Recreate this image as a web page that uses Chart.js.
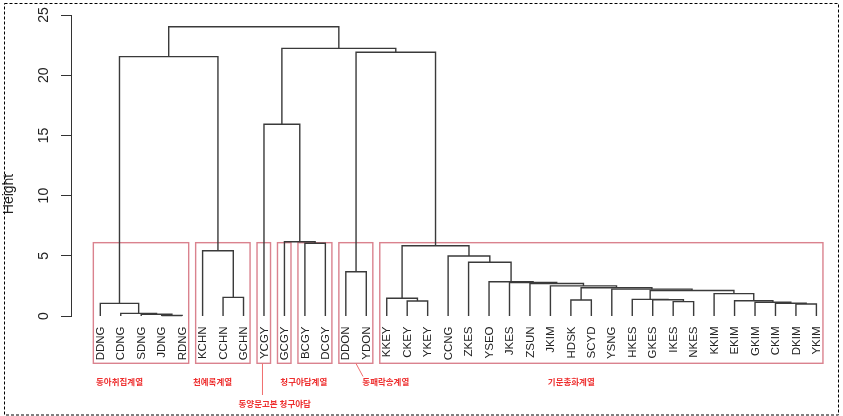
<!DOCTYPE html>
<html>
<head>
<meta charset="utf-8">
<script src="https://cdn.jsdelivr.net/npm/chart.js@4/dist/chart.umd.min.js"></script>
<style>
  html, body { margin: 0; padding: 0; background: #fff; }
  canvas { display: block; }
</style>
</head>
<body>
<canvas id="c" width="843" height="416"></canvas>
<script>
// Leaves in dendrogram order
const leafLabels = [
  'DDNG','CDNG','SDNG','JDNG','RDNG',
  'KCHN','CCHN','GCHN',
  'YCGY','GCGY','BCGY','DCGY',
  'DDON','YDON',
  'KKEY','CKEY','YKEY','CCNG','ZKES','YSEO','JKES','ZSUN','JKIM','HDSK','SCYD',
  'YSNG','HKES','GKES','IKES','NKES','KKIM','EKIM','GKIM','CKIM','DKIM','YKIM'
];

// hclust-style merge table: negative = leaf number (1-based), positive = earlier merge step
const mergeLeft   = [ -4, -3, -2, -35, -1, -34, -33, -29, -16, -32, -24, -28, -27, -15, -7, -31, 13, -26, 11, -23, -22, -21, -20, -13, -19, -18, -6, 14, -11, -10, -9, 5, 24, 31, 32];
const mergeRight  = [ -5,  1,  2, -36,  3,   4,   6, -30, -17,   7, -25,   8,  12,   9, -8,  10, 16,  17, 18,  19,  20,  21,  22, -14,  23,  25, 15, 26, -12,  29, 30, 27, 28, 33, 34];
const mergeHeight = [0.04, 0.14, 0.22, 1.00, 1.05, 1.06, 1.14, 1.19, 1.25, 1.27, 1.33, 1.35, 1.38, 1.47, 1.55, 1.86, 2.12, 2.23, 2.35, 2.50, 2.70, 2.78, 2.85, 3.68, 4.46, 4.98, 5.42, 5.84, 6.04, 6.17, 15.92, 21.54, 21.90, 22.23, 24.03];

const yTicks = [0, 5, 10, 15, 20, 25];
const yTitle = 'Height';

// Highlighted leaf groups (first and last leaf index, 0-based)
const boxFirst = [0, 5, 8, 9, 10, 12, 14];
const boxLast  = [4, 7, 8, 9, 11, 13, 35];

// Group captions
const groupNames = ['동아취집계열', '천예록계열', '동양문고본 청구야담', '청구야담계열', '동패락송계열', '기문총화계열'];

// ---- build segments ----
const mergeX = [];
function refX(r) { return r < 0 ? (-r - 1) : mergeX[r - 1]; }
function refH(r) { return r < 0 ? 0 : mergeHeight[r - 1]; }
const datasets = [];
for (let k = 0; k < mergeHeight.length; k++) {
  const xl = refX(mergeLeft[k]), xr = refX(mergeRight[k]);
  const hl = refH(mergeLeft[k]), hr = refH(mergeRight[k]);
  const h = mergeHeight[k];
  mergeX.push((xl + xr) / 2);
  datasets.push({
    data: [{x: xl, y: hl}, {x: xl, y: h}, {x: xr, y: h}, {x: xr, y: hr}],
    showLine: true,
    borderColor: '#3a3a3a',
    borderWidth: 1.4,
    pointRadius: 0,
    pointHoverRadius: 0,
    fill: false,
    tension: 0,
    clip: false
  });
}

const RED = 'rgb(238,48,48)';
const BOX = 'rgb(218,130,142)';

const decor = {
  id: 'decor',
  beforeDatasetsDraw(chart) {
    const ctx = chart.ctx;
    const xs = chart.scales.x, ys = chart.scales.y;
    const y0 = ys.getPixelForValue(0);
    const top = ys.getPixelForValue(6.09);
    const bottom = y0 + 47.3;
    ctx.save();
    ctx.strokeStyle = BOX;
    ctx.lineWidth = 1.4;
    for (let b = 0; b < boxFirst.length; b++) {
      const l = xs.getPixelForValue(boxFirst[b] - 0.34);
      const r = xs.getPixelForValue(boxLast[b] + 0.32);
      ctx.strokeRect(l, top, r - l, bottom - top);
    }
    ctx.restore();
  },
  afterDraw(chart) {
    const ctx = chart.ctx;
    const xs = chart.scales.x, ys = chart.scales.y;
    const y0 = ys.getPixelForValue(0);
    ctx.save();

    // y tick labels (rotated)
    ctx.fillStyle = '#222';
    ctx.font = '14px "Liberation Sans", Arial, sans-serif';
    ctx.textAlign = 'center';
    ctx.textBaseline = 'middle';
    yTicks.forEach(v => {
      const py = ys.getPixelForValue(v);
      ctx.save();
      ctx.translate(44, py);
      ctx.rotate(-Math.PI / 2);
      ctx.fillText(String(v), 0, 0);
      ctx.restore();
    });

    // axis title
    ctx.save();
    ctx.translate(9, 194);
    ctx.rotate(-Math.PI / 2);
    ctx.fillText(yTitle, 0, 0);
    ctx.restore();

    // leaf labels
    ctx.font = '11.5px "Liberation Sans", Arial, sans-serif';
    ctx.textAlign = 'right';
    leafLabels.forEach((name, i) => {
      const px = xs.getPixelForValue(i);
      ctx.save();
      ctx.translate(px + 0.5, y0 + 10.5);
      ctx.rotate(-Math.PI / 2);
      ctx.fillText(name, 0, 0);
      ctx.restore();
    });

    // group captions
    ctx.fillStyle = RED;
    ctx.font = 'bold 8.5px "Noto Sans CJK KR", sans-serif';
    ctx.textAlign = 'center';
    const capX = [119.5, 212.5, 274.7, 303.8, 385.8, 571.3];
    const capY = [381.7, 381.7, 404, 381.7, 381.7, 381.7];
    groupNames.forEach((t, i) => ctx.fillText(t, capX[i], capY[i]));

    // leader lines
    ctx.strokeStyle = 'rgb(240,110,110)';
    ctx.lineWidth = 1;
    ctx.beginPath();
    const ycx = xs.getPixelForValue(8) - 1.5;
    ctx.moveTo(ycx, y0 + 47.5);
    ctx.lineTo(ycx, 395);
    ctx.moveTo(356, y0 + 47.5);
    ctx.lineTo(363, 376.5);
    ctx.stroke();

    // dashed frame
    ctx.strokeStyle = '#000';
    ctx.lineWidth = 1;
    ctx.setLineDash([3, 2]);
    ctx.strokeRect(4.5, 3.5, 834, 411.5);
    ctx.restore();
  }
};

new Chart(document.getElementById('c'), {
  type: 'scatter',
  data: { datasets },
  options: {
    responsive: false,
    animation: false,
    events: [],
    layout: { padding: { top: 15, right: 8, bottom: 100, left: 0 } },
    plugins: { legend: { display: false }, tooltip: { enabled: false } },
    scales: {
      x: {
        type: 'linear',
        display: false,
        min: -1.432,
        max: 35.909
      },
      y: {
        type: 'linear',
        min: 0,
        max: 25,
        afterFit(scale) { scale.width = 71; },
        ticks: { display: false, stepSize: 5 },
        grid: {
          drawOnChartArea: false,
          drawTicks: true,
          tickLength: 10,
          color: '#333',
          lineWidth: 1
        },
        border: { display: true, color: '#333', width: 1 }
      }
    }
  },
  plugins: [decor]
});
</script>
</body>
</html>
